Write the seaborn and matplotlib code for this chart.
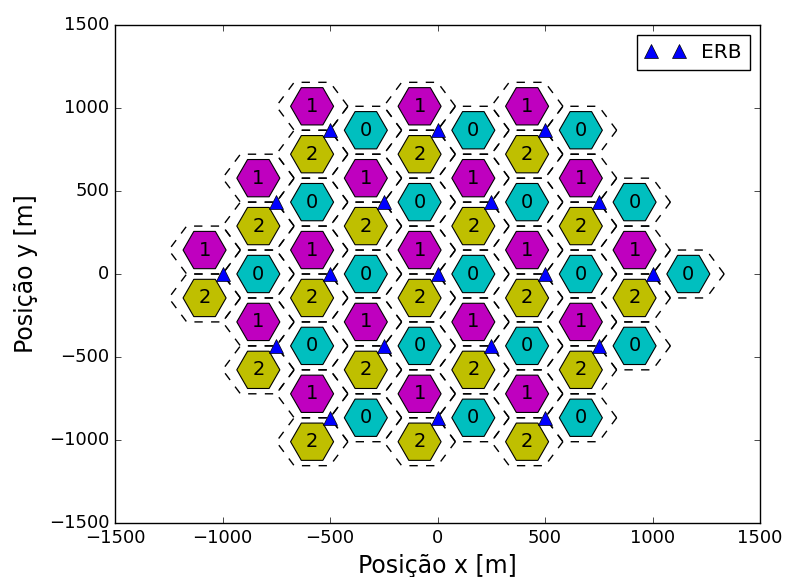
import numpy as np
import pandas as pd
import matplotlib
matplotlib.use("Agg")
import matplotlib.pyplot as plt
import seaborn as sns

# posicoes das ERBs (estacoes radio base) em metros
erb_x = [-500, 0, 500, -750, -250, 250, 750, -1000, -500, 0, 500, 1000,
         -750, -250, 250, 750, -500, 0, 500]
erb_y = [866, 866, 866, 433, 433, 433, 433, 0, 0, 0, 0, 0,
         -433, -433, -433, -433, -866, -866, -866]

# setores de cada ERB
setores = [0, 1, 2]
angulo_setor = [0, 120, 240]  # graus
raio_setor = 500 / 3
cores_setor = {0: "#00bfbf", 1: "#bf00bf", 2: "#bfbf00"}

# centros dos setores
linhas = []
for bx, by in zip(erb_x, erb_y):
    for s, ang in zip(setores, angulo_setor):
        a = np.deg2rad(ang)
        linhas.append({"x": bx + raio_setor * np.cos(a),
                       "y": by + raio_setor * np.sin(a),
                       "setor": s})
df = pd.DataFrame(linhas)
df_erb = pd.DataFrame({"x": erb_x, "y": erb_y})

plt.style.use("classic")
fig = plt.figure(figsize=(7.86, 5.77), dpi=100, facecolor="white")
ax = fig.add_axes([115 / 786, 54 / 577, 645 / 786, 498 / 577])

# hexagonos tracejados das celulas
t = np.deg2rad(np.arange(0, 361, 60))
for cx, cy in zip(df["x"], df["y"]):
    ax.plot(cx + raio_setor * np.cos(t), cy + raio_setor * np.sin(t),
            color="black", linestyle="--", dashes=(6, 6), linewidth=1, zorder=1)

# setores preenchidos
sns.scatterplot(data=df, x="x", y="y", hue="setor", palette=cores_setor,
                marker="H", s=31 ** 2, edgecolor="black", linewidth=0.8,
                legend=False, ax=ax, zorder=2)
for cx, cy, s in zip(df["x"], df["y"], df["setor"]):
    ax.text(cx, cy, str(s), ha="center", va="center", fontsize=14, zorder=3)

# ERBs
ax.plot(df_erb["x"], df_erb["y"], linestyle="none", marker="^", markersize=10.5,
        color="blue", markeredgecolor="black", label="ERB", zorder=4)

ax.set_xlim(-1500, 1500)
ax.set_ylim(-1500, 1500)
ax.set_xticks([-1500, -1000, -500, 0, 500, 1000, 1500])
ax.set_yticks([-1500, -1000, -500, 0, 500, 1000, 1500])
ax.tick_params(labelsize=13)
ax.set_xlabel("Posição x [m]", fontsize=17)
ax.set_ylabel("Posição y [m]", fontsize=17, labelpad=8)
ax.legend(loc="upper right", numpoints=2, fontsize=14.5)

plt.savefig("out.png", dpi=100, facecolor="white")
